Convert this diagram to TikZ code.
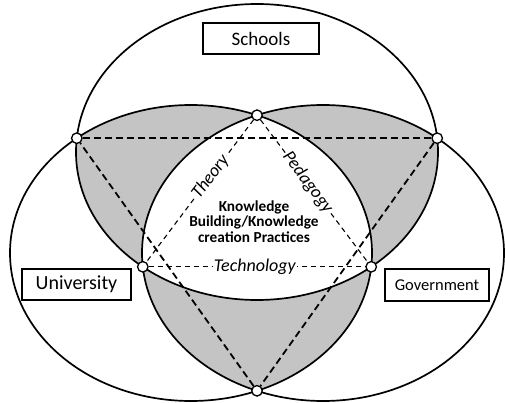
\documentclass[tikz,border=0pt]{standalone}
\usepackage{fontspec}
\setmainfont{Carlito}
\definecolor{lensgray}{RGB}{196,196,196}
\begin{document}
\begin{tikzpicture}[x=1pt,y=-1pt,
  ring/.style={line width=1.7pt},
  dot/.style={circle,draw,fill=white,line width=1.3pt,minimum size=10.5pt,inner sep=0pt},
  bigdash/.style={line width=1.8pt,dash pattern=on 7pt off 4pt},
  smalldash/.style={line width=1.1pt,dash pattern=on 5pt off 4pt},
  labelbox/.style={draw,line width=1.4pt,inner sep=0pt},
  edgetext/.style={fill=white,inner sep=1pt,font=\itshape\fontsize{18}{21}\selectfont}]
\useasboundingbox (0,0) rectangle (505,403);
% lens shading
\begin{scope}
  \clip (257,152) ellipse [x radius=181, y radius=148];
  \fill[lensgray] (191,253) ellipse [x radius=181, y radius=148];
  \fill[lensgray] (323,253) ellipse [x radius=181, y radius=148];
\end{scope}
\begin{scope}
  \clip (191,253) ellipse [x radius=181, y radius=148];
  \fill[lensgray] (323,253) ellipse [x radius=181, y radius=148];
\end{scope}
\begin{scope}
  \clip (257,152) ellipse [x radius=181, y radius=148];
  \clip (191,253) ellipse [x radius=181, y radius=148];
  \fill[white] (323,253) ellipse [x radius=181, y radius=148];
\end{scope}
% ellipses
\draw[ring] (257,152) ellipse [x radius=181, y radius=148];
\draw[ring] (191,253) ellipse [x radius=181, y radius=148];
\draw[ring] (323,253) ellipse [x radius=181, y radius=148];
% intersection points
\node[dot] (A) at (76.8,138.2) {};
\node[dot] (B) at (437.2,138.2) {};
\node[dot] (C) at (257,115.2) {};
\node[dot] (D) at (142.8,266.8) {};
\node[dot] (E) at (371.2,266.8) {};
\node[dot] (F) at (257,390.8) {};
% big triangle
\draw[bigdash] (A) -- (B);
\draw[bigdash] (B) -- (F);
\draw[bigdash] (F) -- (A);
% small triangle
\draw[smalldash] (C) -- (D) node[pos=0.40,rotate=53,edgetext] (theory) {Theory};
\draw[smalldash] (C) -- (E) node[pos=0.44,rotate=-53,edgetext] (pedagogy) {Pedagogy};
\draw[smalldash] (D) -- (E) node[pos=0.49,edgetext] (technology) {Technology};
% labels
\node[labelbox,minimum width=116pt,minimum height=31pt,font=\fontsize{19}{22}\selectfont] (schools) at (261,38.5) {Schools};
\node[labelbox,minimum width=109pt,minimum height=31pt,font=\fontsize{20}{23}\selectfont] (university) at (76.5,284.5) {University};
\node[labelbox,minimum width=104pt,minimum height=32pt,font=\fontsize{16.5}{19}\selectfont] (government) at (437,285) {Government};
\node[align=center,font=\bfseries\fontsize{15.3}{15.5}\selectfont] (kb) at (254,221.5) {Knowledge\\Building/Knowledge\\creation Practices};
\end{tikzpicture}
\end{document}
